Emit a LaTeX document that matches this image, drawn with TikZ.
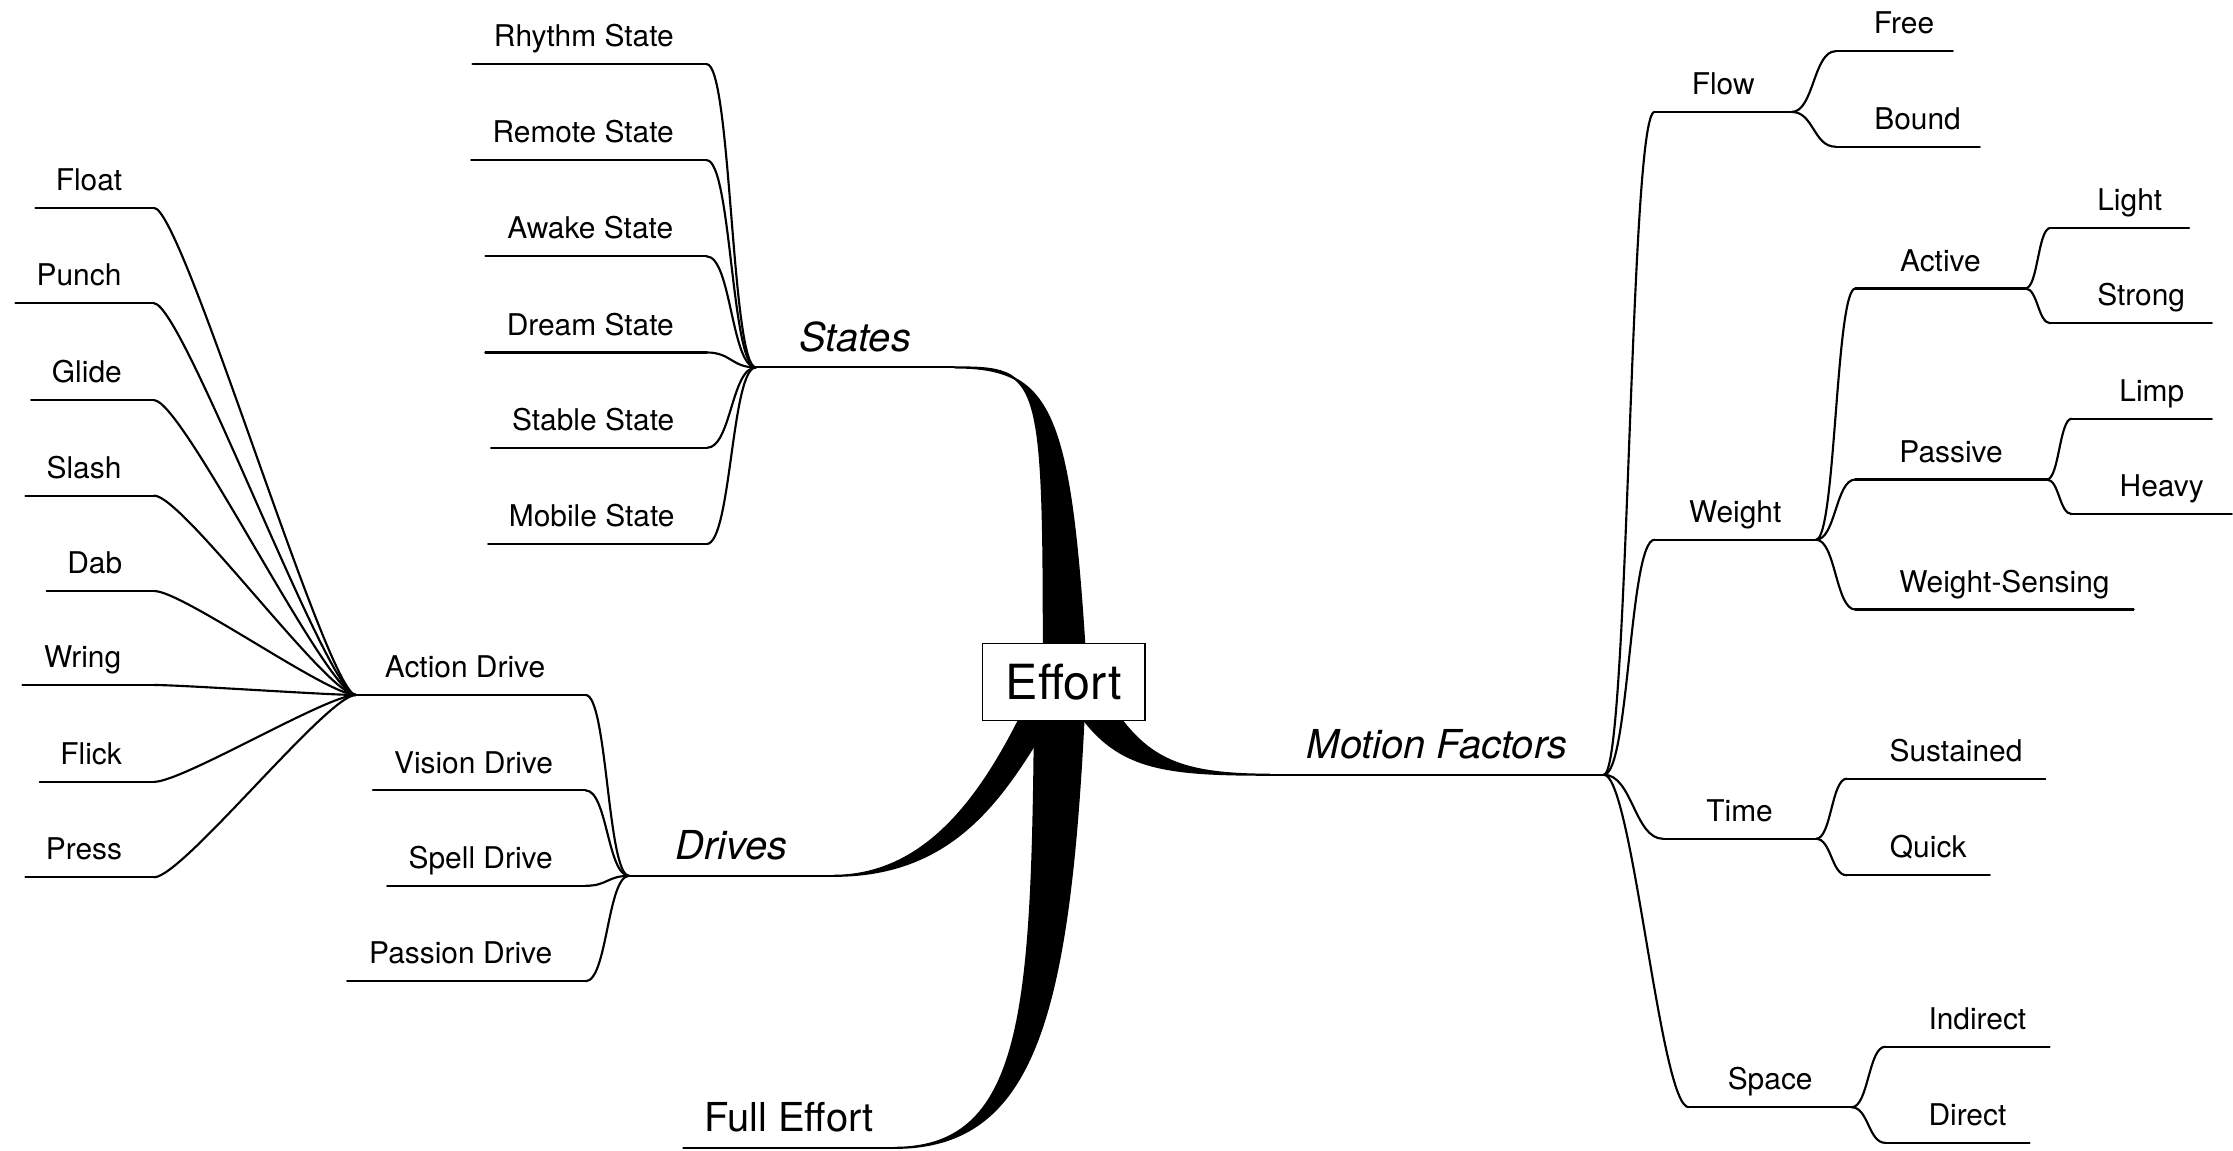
\documentclass[tikz,border=0pt]{standalone}
\usepackage{fontspec}
\setmainfont{TeX Gyre Heros}
\usepackage{tikz}
\usetikzlibrary{calc}
\usetikzlibrary{backgrounds}

\tikzset{
	link/.style={line width=1.5pt, line cap=round},
	leaf/.style={anchor=south, inner xsep=0pt, inner ysep=12pt, text depth=0pt, font=\fontsize{21}{25}\selectfont},
	lleaf/.style={leaf, execute at end node=\hspace*{8pt}},
	rleaf/.style={leaf, execute at begin node=\hspace*{14pt}},
	branch/.style={anchor=south, inner xsep=0pt, inner ysep=11pt, text depth=0pt, font=\fontsize{28}{32}\selectfont\itshape},
	core/.style={draw, line width=1pt, fill=white, minimum width=114pt, minimum height=54pt, inner sep=0pt, font=\fontsize{34}{40}\selectfont},
	sig/.style={to path={let \p1=(\tikztostart), \p2=(\tikztotarget), \n1={min(20,0.5*(\x2-\x1))} in (\p1) .. controls +(\n1,0) and +(-\n1,0) .. (\p2)}}
}

\begin{document}
\begin{tikzpicture}[x=1pt, y=-1pt]
	\useasboundingbox (0,0) rectangle (1568,808);
	\node[core] (effort) at (747,479) {Effort};
	% main branches
	\node[branch, minimum width=139pt] (states) at (600.5,258) {States};
	\node[branch, minimum width=143pt] (drives) at (513.5,615) {Drives};
	\node[branch, minimum width=234pt] (motion) at (1009,544) {Motion Factors};
	\node[branch, font=\fontsize{28}{32}\selectfont, minimum width=148pt] (full) at (554,806) {Full Effort};
	% states
	\node[lleaf, minimum width=164pt] (rhythm) at (414,45) {Rhythm State};
	\node[lleaf, minimum width=165pt] (remote) at (413.5,112.5) {Remote State};
	\node[lleaf, minimum width=155pt] (awake) at (418.5,180) {Awake State};
	\node[lleaf, minimum width=155pt] (dream) at (418.5,247.5) {Dream State};
	\node[lleaf, minimum width=151pt] (stable) at (420.5,314.5) {Stable State};
	\node[lleaf, minimum width=153pt] (mobile) at (419.5,382) {Mobile State};
	% drives
	\node[lleaf, minimum width=161pt] (action) at (330.5,488) {Action Drive};
	\node[lleaf, minimum width=149pt] (vision) at (336.5,555) {Vision Drive};
	\node[lleaf, minimum width=139pt] (spell) at (341.5,622) {Spell Drive};
	\node[lleaf, minimum width=167pt] (passion) at (327.5,689) {Passion Drive};
	\node[lleaf, minimum width=83pt] (float) at (66.5,146) {Float};
	\node[lleaf, minimum width=97pt] (punch) at (59.5,213) {Punch};
	\node[lleaf, minimum width=86pt] (glide) at (65,281) {Glide};
	\node[lleaf, minimum width=90pt] (slash) at (63,348) {Slash};
	\node[lleaf, minimum width=75pt] (dab) at (70.5,415) {Dab};
	\node[lleaf, minimum width=92pt] (wring) at (62,481) {Wring};
	\node[lleaf, minimum width=80pt] (flick) at (68,549) {Flick};
	\node[lleaf, minimum width=90pt] (press) at (63,616) {Press};
	% motion factors
	\node[leaf, minimum width=96pt] (flow) at (1210,78.6) {Flow};
	\node[rleaf, minimum width=82pt] (free) at (1330,36) {Free};
	\node[rleaf, minimum width=101pt] (bound) at (1339.5,103) {Bound};
	\node[leaf, minimum width=113pt] (weight) at (1218.5,379) {Weight};
	\node[leaf, minimum width=119pt] (active) at (1362.5,202.6) {Active};
	\node[rleaf, minimum width=97pt] (light) at (1488.5,160) {Light};
	\node[rleaf, minimum width=113pt] (strong) at (1496.5,227) {Strong};
	\node[leaf, minimum width=134pt] (passive) at (1370,336.7) {Passive};
	\node[rleaf, minimum width=98pt] (limp) at (1504,294) {Limp};
	\node[rleaf, minimum width=112pt] (heavy) at (1511,361) {Heavy};
	\node[rleaf, minimum width=195pt] (wsense) at (1400.5,428) {Weight-Sensing};
	\node[leaf, minimum width=107pt] (time) at (1221.5,589) {Time};
	\node[rleaf, minimum width=139pt] (sustained) at (1366.5,546.8) {Sustained};
	\node[rleaf, minimum width=100pt] (quick) at (1347,614.6) {Quick};
	\node[leaf, minimum width=114pt] (space) at (1243,777.5) {Space};
	\node[rleaf, minimum width=115pt] (indirect) at (1381.5,735) {Indirect};
	\node[rleaf, minimum width=101pt] (direct) at (1374.5,802.5) {Direct};

	% underlines
	\foreach \i in {states,drives,motion,full,rhythm,remote,awake,dream,stable,mobile,
		action,vision,spell,passion,float,punch,glide,slash,dab,wring,flick,press,
		flow,free,bound,weight,active,light,strong,passive,limp,heavy,wsense,
		time,sustained,quick,space,indirect,direct}
		\draw[link] (\i.south west) -- (\i.south east);

	% connectors
	\foreach \i in {rhythm,remote,awake,dream,stable,mobile}
		\draw[link] (\i.south east) to[sig] (states.south west);
	\foreach \i in {action,vision,spell,passion}
		\draw[link] (\i.south east) to[sig] (drives.south west);
	\foreach \i in {float,punch,glide,slash,dab,wring,flick,press}
		\draw[link] (\i.south east) to[sig] (action.south west);
	\foreach \i in {flow,weight,time,space}
		\draw[link] (motion.south east) to[sig] (\i.south west);
	\foreach \i in {free,bound}
		\draw[link] (flow.south east) to[sig] (\i.south west);
	\foreach \i in {active,passive,wsense}
		\draw[link] (weight.south east) to[sig] (\i.south west);
	\foreach \i in {light,strong}
		\draw[link] (active.south east) to[sig] (\i.south west);
	\foreach \i in {limp,heavy}
		\draw[link] (passive.south east) to[sig] (\i.south west);
	\foreach \i in {sustained,quick}
		\draw[link] (time.south east) to[sig] (\i.south west);
	\foreach \i in {indirect,direct}
		\draw[link] (space.south east) to[sig] (\i.south west);

	% tapered branches out of the centre
	\begin{scope}[on background layer]
		\filldraw[link] ($(effort.center)+(-14,0)$) .. controls +(0,-217) and +(62,0) .. (states.south east)
			.. controls +(70,0) and +(-11,-189) .. ($(effort.center)+(16,0)$) -- cycle;
		\filldraw[link] ($(effort.center)+(23,0)$) .. controls +(30,51) and +(-72,0) .. (motion.south west)
			.. controls +(-82,0) and +(30,50) .. ($(effort.center)+(3,10)$) -- cycle;
		\filldraw[link] ($(effort.center)+(-19,1)$) .. controls +(-28,60) and +(75,0) .. (drives.south east)
			.. controls +(85,0) and +(-35,60) .. ($(effort.center)+(-7,21)$) -- cycle;
		\filldraw[link] ($(effort.center)+(-20,1)$) .. controls +(-2,220) and +(95,0) .. (full.south east)
			.. controls +(100,0) and +(-10,230) .. ($(effort.center)+(15,1)$) -- cycle;
	\end{scope}
\end{tikzpicture}
\end{document}
